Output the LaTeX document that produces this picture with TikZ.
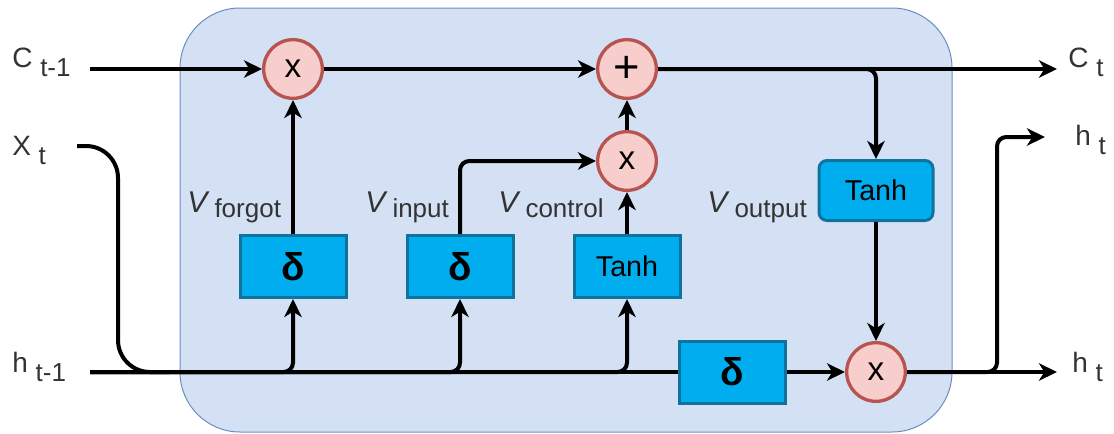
\documentclass[tikz,border=0pt]{standalone}
\usepackage{fontspec}
\setmainfont{Liberation Sans}
\usetikzlibrary{calc, arrows.meta, positioning}
\definecolor{cellfill}{RGB}{212,225,245}
\definecolor{celledge}{RGB}{108,142,191}
\definecolor{opfill}{RGB}{248,206,204}
\definecolor{opedge}{RGB}{184,84,80}
\definecolor{gatefill}{RGB}{0,174,239}
\definecolor{gateedge}{RGB}{16,115,158}
\definecolor{lbltext}{RGB}{51,51,51}
\newcommand{\siglbl}[2]{#1 \raisebox{-7pt}{\fontsize{19.5}{20}\selectfont #2}}
\newcommand{\vlbl}[1]{{\fontsize{22.5}{24}\selectfont\itshape V} \raisebox{-4pt}{\fontsize{19.5}{20}\selectfont #1}}

\tikzset{
  wire/.style={line width=3pt},
  flow/.style={wire, rounded corners=7pt, -{Stealth[length=13.5pt,width=13pt,inset=4pt]}},
  op/.style={circle, draw=opedge, fill=opfill, line width=2.5pt, minimum size=44pt, inner sep=0pt, font=\fontsize{25}{26}\selectfont},
  gate/.style={draw=gateedge, fill=gatefill, line width=2.25pt, minimum width=79.5pt, minimum height=46.5pt, inner sep=0pt},
  sigtxt/.style={font=\fontsize{29}{30}\selectfont\bfseries},
  tanhtxt/.style={font=\fontsize{21.5}{22}\selectfont},
  sidelbl/.style={anchor=base west, inner sep=0pt, text=lbltext, font=\fontsize{21}{22}\selectfont},
  vname/.style={anchor=base west, inner sep=0pt, text=lbltext, font=\fontsize{19.5}{20}\selectfont}
}

\begin{document}
\begin{tikzpicture}[x=0.75pt, y=-0.75pt]
    \useasboundingbox (0,0) rectangle (1114,433);
    \draw[draw=celledge, fill=cellfill, line width=0.75pt, rounded corners=45pt] (180,8) rectangle (952,432);

    % operators
    \node[op] (mulF) at (293,69) {x};
    \node[op, font=\fontsize{34}{34}\selectfont] (add) at (627,69) {+};
    \node[op] (mulI) at (627,161) {x};
    \node[op] (mulO) at (876,372) {x};

    % gates
    \node[gate, sigtxt] (sigF) at (293,266.5) {δ};
    \node[gate, sigtxt] (sigI) at (460,266.5) {δ};
    \node[gate, tanhtxt] (tanhC) at (627,266.5) {Tanh};
    \node[gate, sigtxt] (sigO) at (732,372) {δ};
    \node[gate, tanhtxt, rounded corners=6pt, minimum width=85.5pt, minimum height=45pt] (tanhO) at (876,190.5) {Tanh};

    % side labels
    \node[sidelbl] (ct1) at (12,67) {\siglbl{C}{t-1}};
    \node[sidelbl] (xt) at (12,155) {\siglbl{X}{t}};
    \node[sidelbl] (ht1) at (12,372) {\siglbl{h}{t-1}};
    \node[sidelbl] (ct) at (1068,67) {\siglbl{C}{t}};
    \node[sidelbl] (htup) at (1075,145) {\siglbl{h}{t}};
    \node[sidelbl] (htlo) at (1072,372) {\siglbl{h}{t}};

    \node[vname] (vF) at (187,212) {\vlbl{forgot}};
    \node[vname] (vI) at (365,212) {\vlbl{input}};
    \node[vname] (vC) at (498,212) {\vlbl{control}};
    \node[vname] (vO) at (707,212) {\vlbl{output}};

    \coordinate (cin) at (90,69);
    \coordinate (xin) at (77,146);
    \coordinate (hin) at (90,372);
    \coordinate (cout) at (1057,69);
    \coordinate (hup) at (1045,137);
    \coordinate (hout) at (1057,372);
    \coordinate (xbend) at (118,146);
    \coordinate (xjoin) at (170,372);
    \coordinate (hbend) at (997,137);

    % cell state
    \draw[flow] (cin) -- (mulF.west);
    \draw[flow] (mulF.east) -- (add.west);
    \draw[flow] (add.east) -- (cout);
    \draw[flow] (add.east) -| (tanhO.north);

    % hidden state and input
    \draw[wire, rounded corners=24pt] (xin) -| (xbend |- hin) -- (xjoin);
    \draw[wire] (hin) -- (sigO.west);
    \draw[flow] (hin) -| (sigF.south);
    \draw[flow] (hin) -| (sigI.south);
    \draw[flow] (hin) -| (tanhC.south);

    \draw[flow] (sigF.north) -- (mulF.south);
    \draw[flow] (sigI.north) |- (mulI.west);
    \draw[flow] (tanhC.north) -- (mulI.south);
    \draw[flow] (mulI.north) -- (add.south);

    \draw[flow] (tanhO.south) -- (mulO.north);
    \draw[flow] (sigO.east) -- (mulO.west);
    \draw[flow] (mulO.east) -- (hout);
    \draw[flow] (mulO.east) -| (hbend) -- (hup);
\end{tikzpicture}
\end{document}
